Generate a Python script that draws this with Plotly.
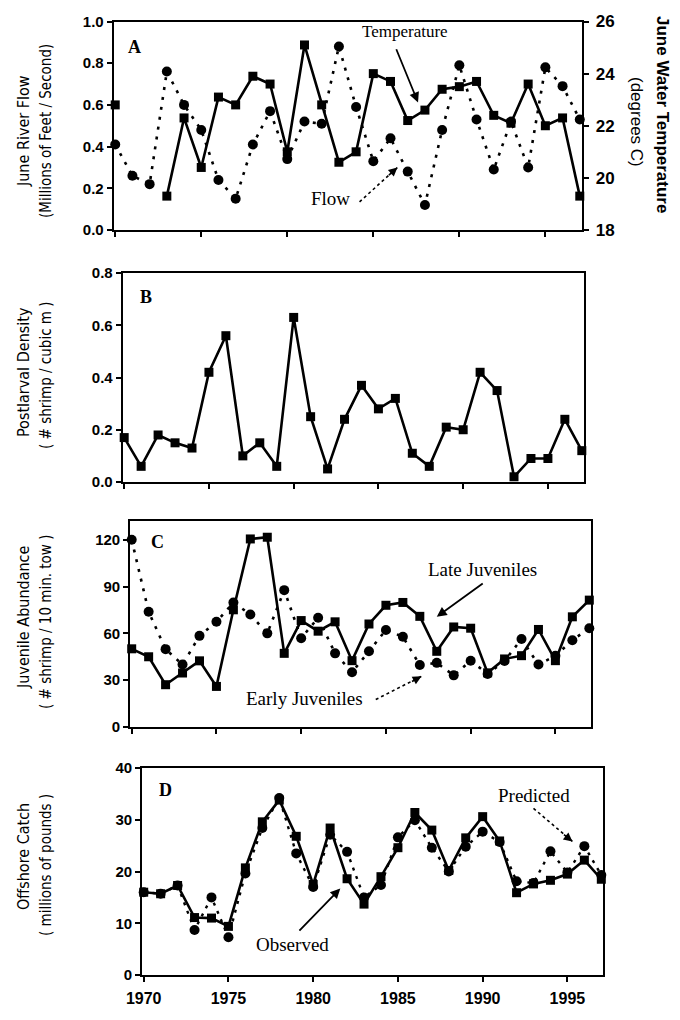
import plotly.graph_objects as go

years = list(range(1970, 1998))

# Panel A
flow = [0.41, 0.26, 0.22, 0.76, 0.60, 0.48, 0.24, 0.15, 0.41, 0.57, 0.34, 0.52, 0.51, 0.88,
        0.59, 0.33, 0.44, 0.28, 0.12, 0.48, 0.79, 0.53, 0.29, 0.52, 0.30, 0.78, 0.69, 0.53]
temperature = [22.8, None, None, 19.3, 22.3, 20.4, 23.1, 22.8, 23.9, 23.6, 21.0, 25.1, 22.8, 20.6,
               21.0, 24.0, 23.7, 22.2, 22.6, 23.4, 23.5, 23.7, 22.4, 22.1, 23.6, 22.0, 22.3, 19.3]
# Panel B
postlarval = [0.17, 0.06, 0.18, 0.15, 0.13, 0.42, 0.56, 0.10, 0.15, 0.06, 0.63, 0.25, 0.05, 0.24,
              0.37, 0.28, 0.32, 0.11, 0.06, 0.21, 0.20, 0.42, 0.35, 0.02, 0.09, 0.09, 0.24, 0.12]
# Panel C
late_juv = [50.1, 45.0, 27.1, 34.6, 42.4, 26.0, 75.1, 120.5, 121.6, 47.2, 68.2, 61.4, 67.4, 42.5,
            66.0, 78.0, 79.8, 70.9, 48.5, 64.1, 63.3, 34.7, 43.6, 45.7, 62.5, 42.5, 70.6, 81.3]
early_juv = [120.0, 73.8, 49.9, 40.0, 58.4, 67.4, 79.8, 72.1, 60.0, 87.7, 56.9, 70.0, 47.2, 35.1,
             48.5, 62.2, 57.8, 39.7, 41.1, 33.1, 42.5, 34.0, 42.3, 56.4, 40.0, 45.6, 55.6, 63.3]
# Panel D
observed = [16.0, 15.7, 17.3, 11.1, 11.0, 9.4, 20.7, 29.6, 33.8, 26.8, 17.5, 28.4, 18.6, 13.7,
            19.0, 24.6, 31.4, 28.0, 20.2, 26.5, 30.6, 25.9, 15.9, 17.6, 18.3, 19.5, 22.2, 18.5]
predicted = [16.0, 15.7, 17.3, 8.7, 15.0, 7.3, 19.6, 28.4, 34.2, 23.5, 17.0, 27.1, 23.8, 15.0,
             17.4, 26.6, 29.9, 24.6, 20.0, 24.8, 27.7, 25.7, 18.1, 17.8, 23.9, 19.8, 24.9, 19.3]

year_ticks = [1970, 1975, 1980, 1985, 1990, 1995]

# the page body has an 8px margin; the figure is sized to fit the 680x1020 window
OFF = 8
W, H = 680 - 2 * OFF, 1020 - 2 * OFF
def dx(l, r):
    return [(l - OFF) / W, (r - OFF) / W]
def dy(top, bottom):
    return [1 - (bottom - OFF) / H, 1 - (top - OFF) / H]
def px(x):
    return (x - OFF) / W
def py(y):
    return 1 - (y - OFF) / H

SANS = "Liberation Sans, Arial, sans-serif"
SERIF = "Liberation Serif, Times New Roman, serif"
NARROW = "Liberation Sans Narrow, DejaVu Sans Condensed, Arial Narrow, sans-serif"

solid = dict(color="black", width=2.6)
dotted = dict(color="black", width=2.6, dash="3px,7px")
sq = dict(symbol="square", size=9, color="black")
ci = dict(symbol="circle", size=10, color="black")

fig = go.Figure()
fig.add_trace(go.Scatter(x=years, y=flow, mode="lines+markers", line=dotted, marker=ci,
                         xaxis="x", yaxis="y", cliponaxis=False, name="Flow"))
fig.add_trace(go.Scatter(x=years, y=temperature, mode="lines+markers", line=solid, marker=sq,
                         xaxis="x", yaxis="y2", cliponaxis=False, connectgaps=False, name="Temperature"))
fig.add_trace(go.Scatter(x=years, y=postlarval, mode="lines+markers", line=solid, marker=sq,
                         xaxis="x2", yaxis="y3", cliponaxis=False, name="Postlarval"))
fig.add_trace(go.Scatter(x=years, y=early_juv, mode="lines+markers", line=dotted, marker=ci,
                         xaxis="x3", yaxis="y4", cliponaxis=False, name="Early Juveniles"))
fig.add_trace(go.Scatter(x=years, y=late_juv, mode="lines+markers", line=solid, marker=sq,
                         xaxis="x3", yaxis="y4", cliponaxis=False, name="Late Juveniles"))
fig.add_trace(go.Scatter(x=years, y=predicted, mode="lines+markers",
                         line=dict(color="black", width=2.4, dash="3px,6px"), marker=ci,
                         xaxis="x4", yaxis="y5", cliponaxis=False, name="Predicted"))
fig.add_trace(go.Scatter(x=years, y=observed, mode="lines+markers", line=solid, marker=sq,
                         xaxis="x4", yaxis="y5", cliponaxis=False, name="Observed"))

axis_common = dict(showline=True, linecolor="black", linewidth=1.6, mirror=True,
                   ticks="outside", ticklen=5, tickwidth=1.5, tickcolor="black",
                   showgrid=False, zeroline=False, automargin=False)
tickf = dict(family=SANS, size=15, color="black", weight="bold")
xr = [1969.9, 1997.1]

panels = {
    "A": (dx(113.5, 581.5), dy(21.5, 230)),
    "B": (dx(122.5, 583.5), dy(273, 482)),
    "C": (dx(130, 591), dy(521, 727)),
    "D": (dx(142, 603), dy(768, 975)),
}

fig.update_layout(
    width=W, height=H, margin=dict(l=0, r=0, t=0, b=0),
    paper_bgcolor="white", plot_bgcolor="white", showlegend=False,
    xaxis=dict(domain=panels["A"][0], anchor="y", range=xr, tickvals=year_ticks,
               showticklabels=False, **axis_common),
    yaxis=dict(domain=panels["A"][1], anchor="x", range=[0, 1.0],
               tickvals=[0, 0.2, 0.4, 0.6, 0.8, 1.0], tickformat=".1f", tickfont=tickf, **axis_common),
    yaxis2=dict(overlaying="y", side="right", anchor="x", range=[18, 26],
                tickvals=[18, 20, 22, 24, 26], ticklabelstandoff=3,
                tickfont=dict(family=SANS, size=17, color="black", weight="bold"),
                showline=True, linecolor="black", linewidth=1.6, ticks="outside", ticklen=6,
                tickwidth=1.5, tickcolor="black", showgrid=False, zeroline=False, automargin=False),
    xaxis2=dict(domain=panels["B"][0], anchor="y3", range=xr, tickvals=year_ticks,
                showticklabels=False, **axis_common),
    yaxis3=dict(domain=panels["B"][1], anchor="x2", range=[0, 0.8],
                tickvals=[0, 0.2, 0.4, 0.6, 0.8], tickformat=".1f", tickfont=tickf, **axis_common),
    xaxis3=dict(domain=panels["C"][0], anchor="y4", range=xr, tickvals=year_ticks,
                showticklabels=False, **axis_common),
    yaxis4=dict(domain=panels["C"][1], anchor="x3", range=[0, 132],
                tickvals=[0, 30, 60, 90, 120], tickfont=tickf, **axis_common),
    xaxis4=dict(domain=panels["D"][0], anchor="y5", range=xr, tickvals=year_ticks,
                ticklabelstandoff=3,
                tickfont=dict(family=SANS, size=16, color="black", weight="bold"), **axis_common),
    yaxis5=dict(domain=panels["D"][1], anchor="x4", range=[0, 40],
                tickvals=[0, 10, 20, 30, 40], tickfont=tickf, **axis_common),
)

ann = []
def label(text, x, y, xref, yref, size=19, bold=False, family=SERIF):
    ann.append(dict(text=text, x=x, y=y, xref=xref, yref=yref, showarrow=False,
                    xanchor="center", yanchor="middle",
                    font=dict(family=family, size=size, color="black",
                              weight="bold" if bold else "normal")))

def arrow(x, y, ax, ay, xref, yref):
    ann.append(dict(text="", x=x, y=y, ax=ax, ay=ay, xref=xref, yref=yref,
                    axref=xref, ayref=yref, showarrow=True, arrowhead=2, arrowsize=1.1,
                    arrowwidth=1.8, arrowcolor="black"))

shapes = []
def dotted_arrow(x, y, tx, ty, dpx, dpy, xref, yref):
    shapes.append(dict(type="line", x0=tx, y0=ty, x1=x, y1=y, xref=xref, yref=yref,
                       line=dict(color="black", width=1.6, dash="dot")))
    ann.append(dict(text="", x=x, y=y, ax=dpx, ay=dpy, xref=xref, yref=yref,
                    showarrow=True, arrowhead=2, arrowsize=1.1, arrowwidth=1.6,
                    arrowcolor="black"))

# panel letters
label("A", 1971.1, 0.88, "x", "y", size=18, bold=True)
label("B", 1971.3, 0.71, "x2", "y3", size=18, bold=True)
label("C", 1971.5, 118.7, "x3", "y4", size=18, bold=True)
label("D", 1971.3, 35.7, "x4", "y5", size=18, bold=True)

# panel A
label("Temperature", 1986.85, 0.95, "x", "y", size=17)
arrow(1987.6, 0.612, 1986.3, 0.874, "x", "y")
label("Flow", 1982.5, 0.15, "x", "y", size=19)
dotted_arrow(1986.4, 0.30, 1984.2, 0.135, -10, 9, "x", "y")

# panel C
label("Late Juveniles", 1990.7, 101, "x3", "y4", size=19)
arrow(1988.0, 70.6, 1990.8, 92.6, "x3", "y4")
label("Early Juveniles", 1980.2, 18.0, "x3", "y4", size=19)
dotted_arrow(1987.1, 32.5, 1984.4, 17.6, -11, 6, "x3", "y4")

# panel D
label("Observed", 1978.8, 5.8, "x4", "y5", size=19)
arrow(1981.6, 16.7, 1979.1, 8.3, "x4", "y5")
label("Predicted", 1993.0, 34.7, "x4", "y5", size=19)
dotted_arrow(1995.3, 25.8, 1993.0, 32.2, -10, -8, "x4", "y5")

# axis titles
def vtitle(text, x, y, angle=-90, size=14, family=NARROW, bold=False):
    ann.append(dict(text=text, x=px(x), y=py(y), xref="paper", yref="paper", showarrow=False,
                    textangle=angle, xanchor="center", yanchor="middle",
                    font=dict(family=family, size=size, color="black",
                              weight="bold" if bold else "normal")))

vtitle("June River Flow", 23, 131, size=16)
vtitle("(Millions of Feet / Second)", 46, 131, size=15)
vtitle("Postlarval Density", 23, 372, size=16)
vtitle("( # shrimp / cubic m )", 46, 375, size=15)
vtitle("Juvenile Abundance", 23, 617, size=16)
vtitle("( # shrimp / 10 min. tow )", 46, 622, size=15)
vtitle("Offshore Catch", 23, 857, size=16)
vtitle("( millions of pounds )", 46, 865, size=15)
vtitle("June Water Temperature", 663, 114, angle=90, size=17, family=SANS, bold=True)
vtitle("(degrees C)", 637, 122, angle=90, size=17, family=SANS)

fig.update_layout(annotations=ann, shapes=shapes)
fig.write_html("out.html")
